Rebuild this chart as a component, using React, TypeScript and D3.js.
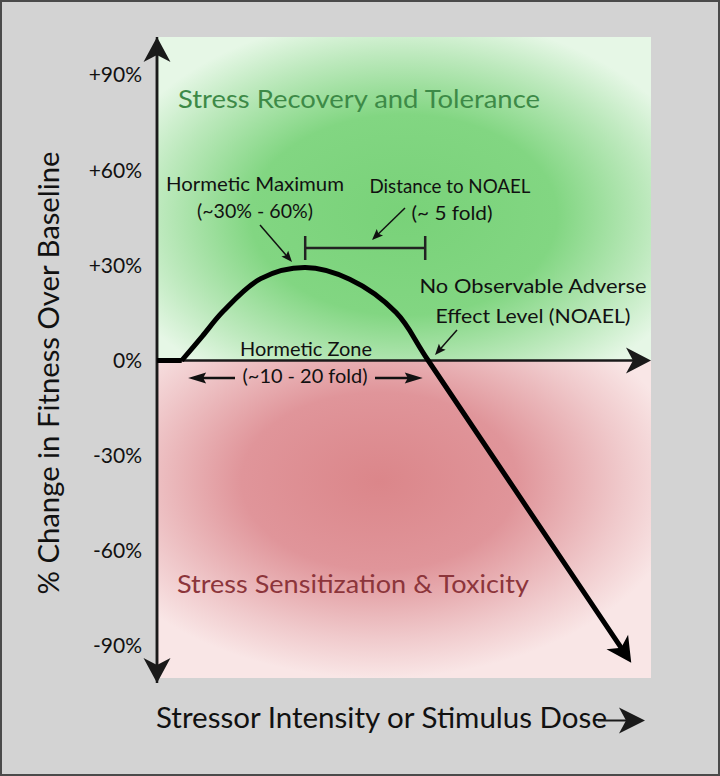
import * as React from "react";
import * as d3 from "d3";

// y ticks (% change in fitness over baseline)
const tickValues = [90, 60, 30, 0, -30, -60, -90];
const tickLabels = ["+90%", "+60%", "+30%", "0%", "-30%", "-60%", "-90%"];

// schematic hormetic dose-response: dose (arbitrary 0-100) vs % change
const doses = [0, 5, 9.2, 13.4, 21, 30, 39, 48.4, 54.9, 96];
const fitness = [0, 0, 7.7, 15.5, 25.8, 29.3, 25.6, 15.1, 0, -95.3];

const peakDose = 30;
const noaelDose = 54.9;
const zoneStart = 6.3;
const zoneEnd = 53.8;

const W = 720;
const H = 776;
const FONT = "Lato, 'Open Sans', sans-serif";

function headPath(x1: number, y1: number, x2: number, y2: number, L: number, hw: number, N: number) {
  const a = Math.atan2(y2 - y1, x2 - x1);
  const c = Math.cos(a), s = Math.sin(a);
  const pt = (u: number, v: number) => [x2 + u * c - v * s, y2 + u * s + v * c];
  const p = [pt(0, 0), pt(-L, -hw), pt(-(L - N), 0), pt(-L, hw)];
  return "M" + p.map(q => q[0].toFixed(2) + "," + q[1].toFixed(2)).join("L") + "Z";
}

function backOff(x1: number, y1: number, x2: number, y2: number, d: number) {
  const len = Math.hypot(x2 - x1, y2 - y1);
  return [x2 - ((x2 - x1) / len) * d, y2 - ((y2 - y1) / len) * d];
}

const Arrow = (props: any) => {
  const { x1, y1, x2, y2, L, hw, N, width, color } = props;
  const [ex, ey] = backOff(x1, y1, x2, y2, L - N - 1);
  return (
    <g>
      <line x1={x1} y1={y1} x2={ex} y2={ey} stroke={color} strokeWidth={width} />
      <path d={headPath(x1, y1, x2, y2, L, hw, N)} fill={color} />
    </g>
  );
};

export default function App() {
  const plotLeft = 157;
  const plotRight = 651;
  const plotTop = 37;
  const plotBottom = 678;

  const x = d3.scaleLinear().domain([0, 100]).range([plotLeft, plotRight]);
  const y = d3.scaleLinear().domain([-90, 90]).range([646, 75]);
  const y0 = y(0);

  const pts: [number, number][] = doses.map((d, i) => [x(d), y(fitness[i])]);
  const n = pts.length;
  const tip = pts[n - 1];
  const prev = pts[n - 2];
  const curveEnd = backOff(prev[0], prev[1], tip[0], tip[1], 25 - 7 - 1) as [number, number];
  const curvePts = pts.slice(1, n - 1).concat([curveEnd]);

  const flatPath = d3.line()(pts.slice(0, 2));
  const curvePath = d3.line().curve(d3.curveCatmullRom.alpha(0.5))(curvePts);

  const ann = "#111";

  return (
    <div style={{ position: "absolute", left: 0, top: 0 }}>
      <svg width={W} height={H} style={{ display: "block" }}>
        <defs>
          <radialGradient id="greenGrad" cx="0.5" cy="0.55" r="0.62">
            <stop offset="0" stopColor="#79d279" />
            <stop offset="0.5" stopColor="#82d682" />
            <stop offset="0.8" stopColor="#bde9bd" />
            <stop offset="1" stopColor="#e6f7e6" />
          </radialGradient>
          <radialGradient id="redGrad" cx="0.45" cy="0.38" r="0.62">
            <stop offset="0" stopColor="#db868a" />
            <stop offset="0.45" stopColor="#e0959a" />
            <stop offset="0.8" stopColor="#f0cacc" />
            <stop offset="1" stopColor="#f9e6e6" />
          </radialGradient>
        </defs>

        <rect x={1} y={1} width={W - 2} height={H - 2} fill="#d3d3d3" stroke="#4a4a4a" strokeWidth={2} />

        <rect x={plotLeft} y={plotTop} width={plotRight - plotLeft} height={y0 - plotTop} fill="url(#greenGrad)" />
        <rect x={plotLeft} y={y0} width={plotRight - plotLeft} height={plotBottom - y0} fill="url(#redGrad)" />

        <text x={178} y={108} fontFamily={FONT} fontSize={25} fill="#3d8a47" textLength={362} lengthAdjust="spacingAndGlyphs">
          Stress Recovery and Tolerance
        </text>
        <text x={177} y={593} fontFamily={FONT} fontSize={25} fill="#8c353b" textLength={352} lengthAdjust="spacingAndGlyphs">
          Stress Sensitization &amp; Toxicity
        </text>

        {/* axes */}
        <Arrow x1={plotLeft} y1={683} x2={plotLeft} y2={plotTop} L={25} hw={13.5} N={7} width={2.5} color="#1a1a1a" />
        <Arrow x1={plotLeft} y1={plotTop} x2={plotLeft} y2={683} L={25} hw={13.5} N={7} width={2.5} color="#1a1a1a" />
        <Arrow x1={plotLeft} y1={y0} x2={plotRight} y2={y0} L={25} hw={13} N={7} width={2.5} color="#1a1a1a" />

        {tickValues.map((v, i) => (
          <text key={v} x={142} y={y(v)} dy="0.35em" textAnchor="end" fontFamily={FONT} fontSize={21} fill="#111">
            {tickLabels[i]}
          </text>
        ))}

        <text
          transform={`translate(59,373) rotate(-90)`}
          textAnchor="middle"
          fontFamily={FONT}
          fontSize={28}
          fill="#111"
          textLength={443}
          lengthAdjust="spacingAndGlyphs"
        >
          % Change in Fitness Over Baseline
        </text>

        <text x={156} y={728} fontFamily={FONT} fontSize={29} fill="#111" textLength={451} lengthAdjust="spacingAndGlyphs">
          Stressor Intensity or Stimulus Dose
        </text>
        <Arrow x1={598} y1={720.5} x2={645} y2={720.5} L={26} hw={13} N={7} width={2} color="#1a1a1a" />

        {/* curve */}
        <path d={flatPath || ""} fill="none" stroke="#000" strokeWidth={5} />
        <path d={curvePath || ""} fill="none" stroke="#000" strokeWidth={5} strokeLinejoin="round" />
        <path d={headPath(prev[0], prev[1], tip[0], tip[1], 25, 13, 7)} fill="#000" />

        {/* hormetic maximum */}
        <text x={255} y={191} textAnchor="middle" fontFamily={FONT} fontSize={20} fill={ann} textLength={178} lengthAdjust="spacingAndGlyphs">
          Hormetic Maximum
        </text>
        <text x={255} y={218} textAnchor="middle" fontFamily={FONT} fontSize={20} fill={ann} textLength={116} lengthAdjust="spacingAndGlyphs">
          (~30% - 60%)
        </text>
        <Arrow x1={260} y1={225} x2={292} y2={262} L={11} hw={4.5} N={2} width={1.5} color={ann} />

        {/* distance to NOAEL */}
        <text x={450} y={193} textAnchor="middle" fontFamily={FONT} fontSize={20} fill={ann} textLength={161} lengthAdjust="spacingAndGlyphs">
          Distance to NOAEL
        </text>
        <text x={452} y={220} textAnchor="middle" fontFamily={FONT} fontSize={20} fill={ann} textLength={81} lengthAdjust="spacingAndGlyphs">
          (~ 5 fold)
        </text>
        <Arrow x1={405} y1={208} x2={372} y2={240} L={11} hw={4.5} N={2} width={1.5} color={ann} />
        <g stroke="#222" strokeWidth={2.5}>
          <line x1={x(peakDose)} y1={248} x2={x(noaelDose) - 3} y2={248} />
          <line x1={x(peakDose)} y1={236} x2={x(peakDose)} y2={260} />
          <line x1={x(noaelDose) - 3} y1={236} x2={x(noaelDose) - 3} y2={260} />
        </g>

        {/* NOAEL */}
        <text x={533} y={293} textAnchor="middle" fontFamily={FONT} fontSize={20} fill={ann} textLength={227} lengthAdjust="spacingAndGlyphs">
          No Observable Adverse
        </text>
        <text x={533} y={323} textAnchor="middle" fontFamily={FONT} fontSize={20} fill={ann} textLength={195} lengthAdjust="spacingAndGlyphs">
          Effect Level (NOAEL)
        </text>
        <Arrow x1={457} y1={330} x2={435} y2={355} L={11} hw={4.5} N={2} width={1.5} color={ann} />

        {/* hormetic zone */}
        <text x={306} y={356} textAnchor="middle" fontFamily={FONT} fontSize={20} fill={ann} textLength={132} lengthAdjust="spacingAndGlyphs">
          Hormetic Zone
        </text>
        <text x={305} y={383} textAnchor="middle" fontFamily={FONT} fontSize={20} fill={ann} textLength={125} lengthAdjust="spacingAndGlyphs">
          (~10 - 20 fold)
        </text>
        <Arrow x1={235} y1={378} x2={x(zoneStart)} y2={378} L={18} hw={5.5} N={3} width={2.7} color={ann} />
        <Arrow x1={375} y1={378} x2={x(zoneEnd)} y2={378} L={18} hw={5.5} N={3} width={2.7} color={ann} />
      </svg>
    </div>
  );
}
